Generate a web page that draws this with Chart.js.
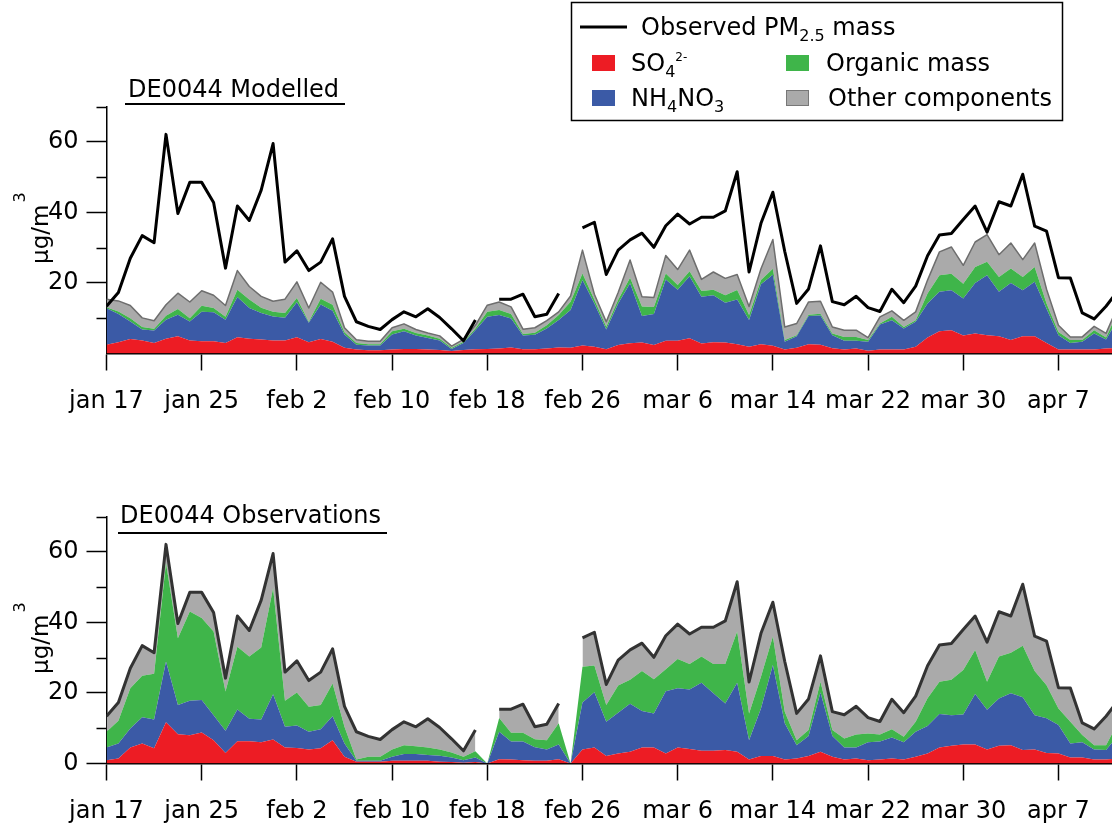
<!DOCTYPE html>
<html>
<head>
<meta charset="utf-8">
<script src="https://cdn.jsdelivr.net/npm/chart.js@4.4.1/dist/chart.umd.min.js"></script>
<style>
  html, body { margin: 0; padding: 0; background: #fff; }
  #wrap { position: relative; width: 1112px; height: 828px; overflow: hidden; }
  canvas { position: absolute; left: 0; }
  #cTop { top: 0; }
  #cBot { top: 414px; }
</style>
</head>
<body>
<div id="wrap">
  <canvas id="cTop" width="1112" height="414"></canvas>
  <canvas id="cBot" width="1112" height="414"></canvas>
</div>
<script>
// Daily PM2.5 at DE0044, 17 Jan - 12 Apr (day 0 = jan 17), µg/m3
const tickDays   = [0, 8, 16, 24, 32, 40, 48, 56, 64, 72, 80];
const tickLabels = ['jan 17', 'jan 25', 'feb 2', 'feb 10', 'feb 18', 'feb 26', 'mar 6', 'mar 14', 'mar 22', 'mar 30', 'apr 7'];

// Observed total PM2.5 mass (null = no measurement)
const obsPM25 = [13.4, 17.3, 27.0, 33.4, 31.4, 62.1, 39.7, 48.5, 48.5, 42.8,
  24.2, 41.8, 37.7, 46.3, 59.5, 25.9, 29.1, 23.5, 25.9, 32.5,
  16.2, 9.0, 7.7, 6.8, 9.6, 11.8, 10.4, 12.7, 10.2, 7.0,
  3.6, 9.5, null, 15.4, 15.4, 16.8, 10.4, 11.1, 17.0, null,
  35.6, 37.2, 22.4, 29.3, 32.2, 34.1, 30.1, 36.2, 39.5, 36.7,
  38.6, 38.6, 40.4, 51.5, 23.1, 36.9, 45.7, 28.9, 14.2, 18.3,
  30.5, 14.7, 13.8, 16.2, 13.0, 11.9, 18.2, 14.4, 19.1, 27.7,
  33.6, 34.0, 38.0, 41.8, 34.4, 43.0, 41.8, 50.8, 36.1, 34.7,
  21.5, 21.4, 11.5, 9.8, 13.4, 17.8];

// Modelled components
const modSO4 = [2.5, 3.2, 4.1, 3.7, 3.0, 4.2, 4.9, 3.7, 3.5, 3.5,
  3.0, 4.6, 4.2, 4.0, 3.7, 3.7, 4.6, 3.2, 4.1, 3.3,
  1.6, 1.1, 0.9, 0.9, 1.1, 1.3, 1.3, 1.1, 1.0, 0.7,
  1.0, 1.2, 1.3, 1.4, 1.7, 1.2, 1.2, 1.4, 1.7, 1.6,
  2.3, 1.9, 1.2, 2.4, 2.9, 3.1, 2.4, 3.6, 3.6, 4.3,
  2.8, 3.2, 3.1, 2.6, 1.9, 2.6, 2.2, 1.1, 1.6, 2.6,
  2.5, 1.5, 1.1, 1.4, 0.8, 1.1, 1.1, 1.1, 1.9, 4.5,
  6.3, 6.6, 5.1, 5.7, 5.2, 4.9, 3.8, 4.9, 4.9, 3.0,
  1.1, 1.1, 1.1, 1.1, 1.4, 1.6];
const modNH4NO3 = [10.3, 8.0, 5.0, 3.1, 3.5, 5.4, 6.1, 5.4, 8.3, 8.2,
  6.6, 11.4, 8.7, 7.5, 6.8, 6.4, 9.9, 5.5, 9.8, 8.8,
  3.8, 1.4, 1.4, 1.4, 4.3, 5.0, 3.8, 3.3, 2.7, 0.6,
  2.0, 5.4, 9.1, 9.5, 8.2, 3.9, 4.1, 5.7, 7.8, 10.7,
  18.5, 12.3, 5.6, 11.8, 17.0, 7.5, 8.8, 17.4, 14.5, 17.6,
  13.3, 13.3, 11.3, 12.7, 7.6, 17.0, 20.1, 2.2, 3.3, 8.0,
  8.3, 3.7, 2.5, 2.2, 2.5, 7.1, 8.3, 6.0, 7.1, 9.7,
  11.2, 11.3, 10.5, 14.3, 17.0, 12.6, 16.2, 13.0, 15.4, 9.7,
  4.1, 1.9, 2.2, 4.6, 2.6, 8.2];
const modOrganic = [0.3, 0.7, 0.9, 0.7, 0.5, 1.1, 1.6, 0.9, 1.7, 1.2,
  0.8, 2.1, 2.4, 1.5, 1.3, 1.4, 1.2, 0.3, 1.6, 1.7,
  0.6, 0.5, 0.3, 0.3, 0.9, 0.7, 0.7, 0.7, 0.5, 0.3,
  0.3, 0.5, 1.4, 1.4, 1.3, 0.4, 0.6, 0.9, 1.4, 2.4,
  1.9, 1.0, 0.8, 1.0, 1.6, 2.7, 2.0, 1.7, 1.3, 1.4,
  1.6, 1.6, 2.1, 2.7, 1.4, 1.2, 1.7, 0.5, 0.3, 0.4,
  0.5, 0.5, 1.1, 1.1, 0.5, 0.3, 1.0, 0.4, 0.4, 2.8,
  4.7, 4.7, 4.2, 4.5, 3.8, 4.2, 4.1, 3.8, 4.2, 1.5,
  0.9, 0.8, 0.5, 0.9, 0.5, 2.2];
const modOther = [2.3, 3.0, 3.6, 2.6, 2.3, 3.1, 4.5, 4.6, 4.3, 3.6,
  3.2, 5.4, 3.7, 3.2, 3.0, 3.9, 4.6, 3.9, 4.7, 3.6,
  1.3, 0.9, 0.9, 0.9, 1.0, 1.4, 1.0, 0.7, 0.8, 0.5,
  0.7, 0.9, 1.9, 2.3, 2.0, 1.4, 1.4, 1.3, 0.9, 1.6,
  6.6, 1.6, 1.4, 2.1, 5.0, 2.8, 2.7, 5.1, 4.4, 6.0,
  3.3, 5.0, 4.8, 4.4, 2.4, 3.2, 8.3, 3.7, 3.3, 3.6,
  3.5, 1.8, 1.9, 1.9, 0.7, 1.9, 1.7, 1.9, 2.4, 3.8,
  6.6, 7.6, 5.2, 7.1, 7.7, 6.3, 7.2, 4.9, 6.8, 4.0,
  1.9, 0.9, 0.9, 1.1, 1.2, 1.5];

// Observed components (other = remainder up to the total mass)
const obsSO4 = [0.9, 1.4, 4.5, 5.7, 4.3, 11.7, 8.3, 8.0, 8.8, 6.6,
  3.0, 6.3, 6.3, 6.0, 6.8, 4.5, 4.4, 4.0, 4.3, 6.6,
  1.9, 0.5, 0.5, 0.5, 0.8, 0.8, 0.8, 0.8, 0.5, 0.4,
  0.2, 0.4, 0, 1.2, 1.1, 0.9, 0.8, 0.8, 1.2, 0,
  4.0, 4.5, 2.1, 2.8, 3.3, 4.5, 4.5, 2.8, 4.5, 4.1,
  3.6, 3.6, 3.8, 3.3, 1.1, 2.1, 2.1, 1.1, 1.4, 2.1,
  3.3, 1.9, 1.1, 1.4, 0.9, 1.1, 1.4, 1.1, 1.9, 2.8,
  4.5, 5.0, 5.4, 5.4, 4.0, 5.0, 5.2, 3.8, 4.0, 3.0,
  2.8, 1.7, 1.7, 1.1, 1.1, 1.4];
const obsNH4NO3 = [3.6, 4.3, 5.4, 7.4, 8.2, 17.2, 8.3, 9.8, 9.2, 7.1,
  6.3, 9.0, 6.4, 6.5, 12.8, 5.9, 6.4, 5.0, 5.4, 6.8,
  3.8, 0.3, 0.3, 0.3, 1.1, 1.9, 1.9, 1.6, 1.7, 1.3,
  0.7, 1.3, 0, 7.8, 5.1, 5.3, 3.8, 3.2, 4.2, 0,
  13.3, 15.7, 9.7, 11.6, 13.6, 10.4, 9.7, 17.7, 16.8, 16.9,
  19.3, 16.3, 13.2, 19.6, 5.5, 13.5, 25.8, 10.3, 3.8, 5.7,
  16.8, 5.9, 3.4, 3.1, 5.1, 5.1, 6.0, 4.9, 7.1, 7.8,
  9.5, 8.7, 8.5, 14.3, 11.2, 13.4, 14.7, 15.0, 9.7, 9.8,
  8.1, 4.0, 4.3, 2.9, 2.7, 6.6];
const obsOrganic = [4.5, 6.4, 11.4, 11.8, 12.9, 27.9, 18.9, 25.3, 23.2, 23.7,
  11.1, 17.8, 17.6, 20.4, 30.1, 7.4, 9.3, 7.1, 6.9, 9.3,
  4.7, 0.3, 1.1, 1.1, 2.1, 2.5, 2.2, 2.1, 1.8, 1.4,
  1.0, 1.8, 0, 3.9, 2.5, 2.5, 2.3, 2.6, 6.0, 0,
  10.1, 7.6, 4.8, 7.7, 6.8, 11.3, 9.7, 6.2, 8.3, 7.2,
  7.4, 8.3, 11.2, 14.5, 7.6, 9.0, 8.1, 3.3, 1.4, 1.7,
  3.1, 1.7, 2.6, 3.7, 2.5, 2.0, 2.3, 1.6, 2.8, 7.9,
  9.2, 10.0, 12.6, 12.5, 8.0, 11.9, 11.5, 14.6, 12.5, 9.4,
  4.7, 6.1, 2.1, 1.2, 1.4, 3.5];
const obsOther = [4.4, 5.2, 5.7, 8.5, 6.0, 5.3, 4.2, 5.4, 7.3, 5.4,
  3.8, 8.7, 7.4, 13.4, 9.8, 8.1, 9.0, 7.4, 9.3, 9.8,
  5.8, 7.9, 5.8, 4.9, 5.6, 6.6, 5.5, 8.2, 6.2, 3.9,
  1.7, 6.0, null, 2.5, 6.7, 8.1, 3.5, 4.5, 5.6, null,
  8.2, 9.4, 5.8, 7.2, 8.5, 7.9, 6.2, 9.5, 9.9, 8.5,
  8.3, 10.4, 12.2, 14.1, 8.9, 12.3, 9.7, 14.2, 7.6, 8.8,
  7.3, 5.2, 6.7, 8.0, 4.5, 3.7, 8.5, 6.8, 7.3, 9.2,
  10.4, 10.3, 11.5, 9.6, 11.2, 12.7, 10.4, 17.4, 9.9, 12.5,
  5.9, 9.6, 3.4, 4.6, 8.2, 6.3];

const days = obsPM25.map((_, i) => i);

const COLORS = { so4: '#ed1c24', nh4no3: '#3b5aa6', organic: '#3fb54a', other: '#aaaaaa' };
const FONT = '"DejaVu Sans", sans-serif';

// Draws a run of text pieces: [text, fontSize, baselineShift]
function richText(ctx, parts, x, y) {
  let cx = x;
  for (const [t, size, dy] of parts) {
    ctx.font = size + 'px ' + FONT;
    ctx.fillText(t, cx, y + dy);
    cx += ctx.measureText(t).width;
  }
}

// Panel heading with underline, minor y ticks and rotated unit label
const panelDecor = {
  id: 'panelDecor',
  afterDraw(chart, args, opts) {
    const ctx = chart.ctx;
    const ys = chart.scales.y;
    const left = chart.chartArea.left;
    ctx.save();
    ctx.fillStyle = '#000';
    ctx.strokeStyle = '#000';
    // minor ticks
    ctx.lineWidth = 1.5;
    for (const v of opts.minorTicks) {
      const py = Math.round(ys.getPixelForValue(v)) + 0.5;
      ctx.beginPath(); ctx.moveTo(left - 10, py); ctx.lineTo(left, py); ctx.stroke();
    }
    // heading
    ctx.textBaseline = 'alphabetic';
    ctx.font = '24px ' + FONT;
    ctx.fillText(opts.title, opts.titleX, opts.titleY);
    ctx.lineWidth = 2;
    ctx.beginPath(); ctx.moveTo(opts.lineX1, opts.lineY); ctx.lineTo(opts.lineX2, opts.lineY); ctx.stroke();
    // unit label
    ctx.translate(opts.unitX, opts.unitY);
    ctx.rotate(-Math.PI / 2);
    ctx.font = '23px ' + FONT;
    ctx.fillText('µg/m', 0, 0);
    const w = ctx.measureText('µg/m').width;
    ctx.font = '16px ' + FONT;
    ctx.fillText('3', w + 2, -23);
    ctx.restore();
  }
};

// Legend box of the modelled panel
const componentLegend = {
  id: 'componentLegend',
  afterDraw(chart) {
    const ctx = chart.ctx;
    ctx.save();
    ctx.strokeStyle = '#000';
    ctx.lineWidth = 1.5;
    ctx.strokeRect(571.5, 2.5, 491, 118);
    ctx.lineWidth = 3;
    ctx.beginPath(); ctx.moveTo(580, 27); ctx.lineTo(627, 27); ctx.stroke();
    ctx.fillStyle = '#000';
    ctx.textBaseline = 'alphabetic';
    richText(ctx, [['Observed PM', 24, 0], ['2.5', 16, 6], [' mass', 24, 0]], 641, 35);

    ctx.fillStyle = COLORS.so4;     ctx.fillRect(592, 55, 23, 16);
    ctx.fillStyle = COLORS.nh4no3;  ctx.fillRect(592, 90, 23, 16);
    ctx.fillStyle = COLORS.organic; ctx.fillRect(786, 55, 23, 16);
    ctx.fillStyle = COLORS.other;   ctx.fillRect(786, 90, 23, 16);
    ctx.strokeStyle = '#777'; ctx.lineWidth = 1;
    ctx.strokeRect(786.5, 90.5, 22, 15);

    ctx.fillStyle = '#000';
    richText(ctx, [['SO', 24, 0], ['4', 16, 6], ['2-', 12, -10]], 631, 71);
    richText(ctx, [['NH', 24, 0], ['4', 16, 6], ['NO', 24, 0], ['3', 16, 6]], 631, 106);
    richText(ctx, [['Organic mass', 24, 0]], 826, 71);
    richText(ctx, [['Other components', 24, 0]], 828, 106);
    ctx.restore();
  }
};

function buildOptions(cfg) {
  return {
    responsive: false,
    animation: false,
    devicePixelRatio: 1,
    layout: { padding: { top: cfg.top, right: 0, bottom: 0, left: 0 } },
    elements: { point: { radius: 0, hoverRadius: 0 }, line: { tension: 0, borderJoinStyle: 'round' } },
    plugins: {
      legend: { display: false },
      tooltip: { enabled: false },
      panelDecor: cfg.decor
    },
    scales: {
      x: {
        type: 'linear', min: 0, max: 84.5,
        afterBuildTicks: s => { s.ticks = tickDays.map(v => ({ value: v })); },
        afterFit: s => { s.height = cfg.xHeight; },
        ticks: {
          autoSkip: false, maxRotation: 0, color: '#000', padding: 17,
          font: { family: FONT, size: 24 },
          callback: v => tickLabels[tickDays.indexOf(v)]
        },
        grid: { drawOnChartArea: false, drawTicks: true, tickLength: 17, tickColor: '#000', tickWidth: 1.5 },
        border: { display: true, color: '#000', width: 1.5 }
      },
      y: {
        stacked: true, min: 0, max: 70,
        afterBuildTicks: s => { s.ticks = cfg.majorTicks.map(v => ({ value: v })); },
        afterFit: s => { s.width = 106.5; },
        ticks: {
          color: '#000', padding: 8,
          font: { family: FONT, size: 24 },
          callback: v => String(v)
        },
        grid: { drawOnChartArea: false, drawTicks: true, tickLength: 20, tickColor: '#000', tickWidth: 1.5 },
        border: { display: true, color: '#000', width: 1.5 }
      }
    }
  };
}

function areaSet(label, data, color, fill, border) {
  return {
    label, data, fill,
    stack: 'components',
    backgroundColor: color,
    borderColor: border ? border.color : color,
    borderWidth: border ? border.width : 0,
    pointRadius: 0,
    spanGaps: false
  };
}

// Modelled panel
new Chart(document.getElementById('cTop'), {
  type: 'line',
  data: {
    labels: days,
    datasets: [
      areaSet('SO4', modSO4, COLORS.so4, 'origin'),
      areaSet('NH4NO3', modNH4NO3, COLORS.nh4no3, '-1'),
      areaSet('Organic mass', modOrganic, COLORS.organic, '-1'),
      areaSet('Other components', modOther, COLORS.other, '-1', { color: '#6e6e6e', width: 1.5 }),
      {
        label: 'Observed PM2.5 mass', data: obsPM25, stack: 'observed', fill: false,
        borderColor: '#000', borderWidth: 3, pointRadius: 0, spanGaps: false, order: -1
      }
    ]
  },
  options: buildOptions({
    top: 106.5, xHeight: 60.5, majorTicks: [20, 40, 60],
    decor: {
      minorTicks: [10, 30, 50, 70],
      title: 'DE0044 Modelled', titleX: 128, titleY: 97,
      lineX1: 125, lineX2: 345, lineY: 104,
      unitX: 48, unitY: 264
    }
  }),
  plugins: [panelDecor, componentLegend]
});

// Observed panel
new Chart(document.getElementById('cBot'), {
  type: 'line',
  data: {
    labels: days,
    datasets: [
      areaSet('SO4', obsSO4, COLORS.so4, 'origin'),
      areaSet('NH4NO3', obsNH4NO3, COLORS.nh4no3, '-1'),
      areaSet('Organic mass', obsOrganic, COLORS.organic, '-1'),
      areaSet('Other components', obsOther, COLORS.other, '-1', { color: '#333333', width: 3 })
    ]
  },
  options: buildOptions({
    top: 102.5, xHeight: 64.5, majorTicks: [0, 20, 40, 60],
    decor: {
      minorTicks: [10, 30, 50, 70],
      title: 'DE0044 Observations', titleX: 120, titleY: 109,
      lineX1: 118, lineX2: 387, lineY: 119,
      unitX: 48, unitY: 260
    }
  }),
  plugins: [panelDecor]
});
</script>
</body>
</html>
